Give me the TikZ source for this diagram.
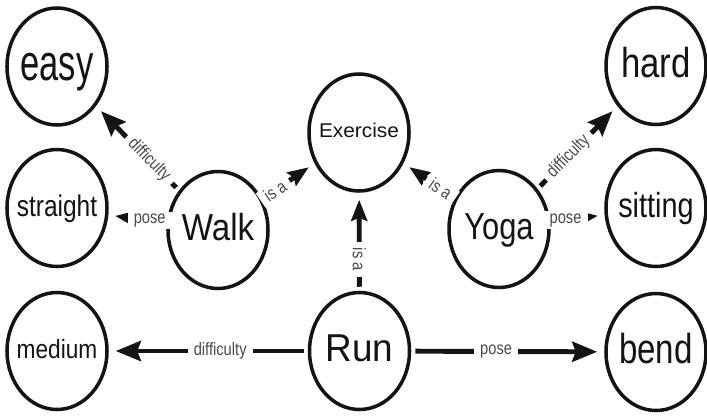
\documentclass[tikz,border=0pt]{standalone}
\usepackage{fontspec}
\setmainfont{Liberation Sans}
\newfontfamily\labelfont[FakeStretch=0.82]{Liberation Sans}
\usepackage{graphicx}
\usetikzlibrary{arrows.meta,shapes.geometric}

% word inside an ellipse: size (pt), horizontal squeeze, text
\newcommand{\word}[3]{\makebox[0pt]{\scalebox{#2}[1]{\fontsize{#1}{#1}\selectfont\rule[-0.21em]{0pt}{0.96em}#3}}}

\definecolor{ink}{HTML}{141414}
\definecolor{labelgray}{HTML}{4a4a4a}

\tikzset{
  ent/.style={ellipse, draw=ink, line width=2pt, fill=white,
    minimum width=2.0cm, minimum height=2.34cm, inner sep=0pt, text=ink},
  link/.style={draw=ink, line width=2.8pt,
    -{Stealth[length=0.5cm,width=0.4cm,inset=0.07cm]},
    shorten <=0.08cm, shorten >=0.14cm},
  isalink/.style={link, -{Stealth[length=0.42cm,width=0.32cm,inset=0.06cm]}},
  shortlink/.style={link, -{Stealth[length=0.28cm,width=0.22cm,inset=0.04cm]}},
  rel/.style={fill=white, text=labelgray, inner xsep=0.12cm, inner ysep=0.04cm,
    font=\labelfont\fontsize{10.2}{11}\selectfont}
}

\begin{document}
\begin{tikzpicture}

\useasboundingbox (0,0) rectangle (14.14,8.3);

% left column
\node[ent] at (1.14,6.97) (easy) {\word{28.9}{0.68}{easy}};
\node[ent] at (1.14,4.14) (straight) {\word{17}{0.82}{straight}};
\node[ent] at (1.14,1.28) (medium) {\word{15}{0.86}{medium}};

% middle
\node[ent] at (4.36,3.70) (Walk) {\word{21.4}{0.88}{Walk}};
\node[ent] at (7.18,5.65) (Exercise) {\word{11.3}{1.05}{Exercise}};
\node[ent] at (7.19,1.28) (Run) {\word{22.1}{0.95}{Run}};
\node[ent] at (9.98,3.72) (Yoga) {\word{21.4}{0.82}{Yoga}};

% right column
\node[ent] at (13.12,6.98) (hard) {\word{23.8}{0.83}{hard}};
\node[ent] at (13.12,4.14) (sitting) {\word{19.8}{0.83}{sitting}};
\node[ent] at (13.12,1.26) (bend) {\word{23.8}{0.79}{bend}};

% relations
\draw[link] (Walk) -- node[rel, sloped, pos=0.36] {difficulty} (easy);
\draw[shortlink] (Walk) -- node[rel, pos=0.29] {pose} (straight);
\draw[isalink] (Walk) -- node[rel, sloped, pos=0.24] {is a} (Exercise);

\draw[isalink] (Yoga) -- node[rel, sloped, pos=0.27] {is a} (Exercise);
\draw[link] (Yoga) -- node[rel, sloped, pos=0.39] {difficulty} (hard);
\draw[shortlink] (Yoga) -- node[rel, pos=0.28] {pose} (sitting);

\draw[isalink] (Run) -- node[rel, rotate=-90, pos=0.32] {is a} (Exercise);
\draw[link] (Run) -- node[rel, pos=0.44] {difficulty} (medium);
\draw[link] (Run) -- node[rel, pos=0.44] {pose} (bend);

\end{tikzpicture}
\end{document}
